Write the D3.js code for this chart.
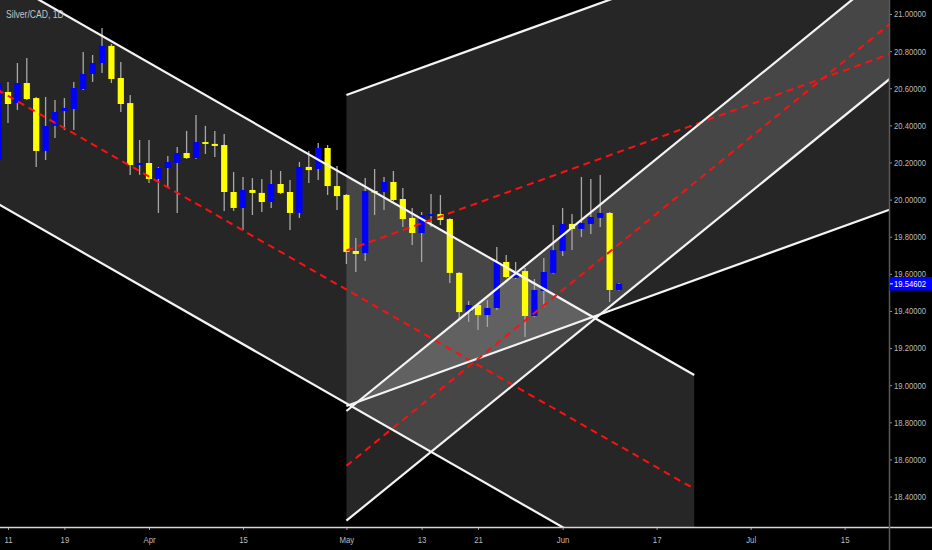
<!DOCTYPE html>
<html>
<head>
<meta charset="utf-8">
<script src="https://cdn.jsdelivr.net/npm/d3@7"></script>
<style>
  html, body { margin: 0; padding: 0; background: #000; }
  svg { display: block; }
  .axis text { font-family: "Liberation Sans", Arial, sans-serif; font-size: 9px; fill: #bcbcbc; }
</style>
</head>
<body>
<div id="chart"></div>
<script>
// Silver/CAD daily candles, first bar 2019-03-08
const candleStart = "2019-03-08";
const open  = [20.213,20.580,20.520,20.628,20.547,20.262,20.397,20.477,20.488,20.596,20.677,20.736,20.828,20.655,20.520,20.186,20.197,20.111,20.170,20.197,20.251,20.224,20.310,20.300,20.294,20.041,19.955,20.052,20.036,19.987,20.084,20.041,19.928,20.176,20.165,20.278,20.073,20.025,19.723,19.712,20.046,20.041,20.095,20.003,19.901,19.820,19.912,19.922,19.895,19.605,19.394,19.432,19.378,19.416,19.664,19.578,19.615,19.373,19.508,19.605,19.723,19.869,19.842,19.869,19.901,19.928,19.513];
const high  = [20.655,20.634,20.736,20.763,20.553,20.553,20.537,20.547,20.634,20.795,20.779,20.925,20.838,20.741,20.564,20.321,20.321,20.176,20.235,20.283,20.370,20.456,20.397,20.370,20.353,20.149,20.122,20.116,20.111,20.159,20.154,20.106,20.203,20.262,20.305,20.294,20.181,20.030,19.793,20.116,20.165,20.122,20.154,20.062,19.955,19.933,20.030,20.025,19.900,19.610,19.454,19.436,19.459,19.745,19.701,19.664,19.631,19.572,19.685,19.863,19.955,19.922,20.122,20.111,20.133,19.933,19.550];
const low   = [20.186,20.413,20.483,20.537,20.176,20.213,20.332,20.375,20.375,20.591,20.634,20.682,20.628,20.472,20.133,20.133,20.089,19.928,20.062,19.928,20.219,20.219,20.246,20.230,19.939,19.939,19.836,19.917,19.933,19.955,20.030,19.836,19.901,20.089,20.106,20.025,19.944,19.653,19.610,19.669,19.917,19.944,19.992,19.852,19.755,19.664,19.852,19.863,19.551,19.351,19.341,19.297,19.314,19.405,19.578,19.572,19.260,19.367,19.421,19.600,19.696,19.728,19.798,19.815,19.852,19.448,19.510];
const close = [20.628,20.515,20.628,20.542,20.262,20.397,20.472,20.494,20.601,20.677,20.736,20.828,20.650,20.515,20.186,20.197,20.111,20.170,20.203,20.251,20.224,20.310,20.300,20.289,20.041,19.955,20.052,20.036,19.987,20.084,20.036,19.928,20.176,20.159,20.278,20.073,20.019,19.718,19.707,20.046,20.041,20.095,19.998,19.895,19.820,19.917,19.922,19.890,19.605,19.394,19.432,19.378,19.416,19.664,19.583,19.615,19.373,19.513,19.610,19.728,19.869,19.842,19.874,19.906,19.928,19.513,19.546];
const lastPrice = 19.54602;

// market closed days (besides weekends)
const holidays = ["2019-04-19"];

// axis ticks
const dateTicks = ["2019-03-11","2019-03-19","2019-04-01","2019-04-15","2019-05-01","2019-05-13","2019-05-21","2019-06-03","2019-06-17","2019-07-01","2019-07-15"];
const priceTicks = [18.4,18.6,18.8,19.0,19.2,19.4,19.6,19.8,20.0,20.2,20.4,20.6,20.8,21.0];

// drawn channels: [date, upper price, lower price] at both ends
const channelA = [["2019-02-25", 21.462, 20.236], ["2019-06-21", 19.055, 17.829]];
const channelB = [["2019-05-01", 20.564, 18.888], ["2019-07-31", 21.754, 20.078]];
const channelC = [["2019-05-01", 18.861, 18.270], ["2019-07-31", 21.538, 20.947]];

const width = 932, height = 550;
const plotW = 889, plotH = 527;
const FONT = "\"Liberation Sans\", Arial, sans-serif";

const fmt = d3.timeFormat("%Y-%m-%d");
const parse = d3.timeParse("%Y-%m-%d");

// trading calendar (weekends and holidays skipped, like the chart does)
const days = d3.timeDays(new Date(2019, 1, 25), new Date(2019, 8, 1))
    .filter(d => d.getDay() % 6 !== 0 && !holidays.includes(fmt(d)));
const dayIndex = new Map(days.map((d, i) => [fmt(d), i]));
const pos = s => dayIndex.get(s);

const x = d3.scaleLinear().domain([9.149, 103.72]).range([0, plotW]);
const y = d3.scaleLinear().domain([18.236, 21.0754]).range([plotH, 0]);

// squeeze text to mimic the narrow chart font
function narrow(sel, k = 0.85) {
    sel.each(function () {
        const w = this.getComputedTextLength();
        d3.select(this)
            .attr("textLength", w * k)
            .attr("lengthAdjust", "spacingAndGlyphs");
    });
}

const svg = d3.select("#chart").append("svg")
    .attr("width", width)
    .attr("height", height);

svg.append("rect").attr("width", width).attr("height", height).attr("fill", "#000");

svg.append("defs").append("clipPath").attr("id", "plot")
    .append("rect").attr("width", plotW).attr("height", plotH);

const plot = svg.append("g").attr("clip-path", "url(#plot)");

// channel fills
const channels = [channelA, channelB, channelC];
channels.forEach(ch => {
    const pts = [
        [x(pos(ch[0][0])), y(ch[0][1])],
        [x(pos(ch[1][0])), y(ch[1][1])],
        [x(pos(ch[1][0])), y(ch[1][2])],
        [x(pos(ch[0][0])), y(ch[0][2])]
    ];
    plot.append("polygon")
        .attr("points", pts.map(p => p.join(",")).join(" "))
        .attr("fill", "rgba(255,255,255,0.15)");
});

// title
svg.append("text")
    .attr("x", 6)
    .attr("y", 18)
    .style("font-family", FONT)
    .style("font-size", "11px")
    .style("fill", "#c4c4c4")
    .text("Silver/CAD, 1D")
    .call(narrow, 0.78);

// candles
const startPos = pos(candleStart);
const bars = close.map((c, i) => ({ p: startPos + i, o: open[i], h: high[i], l: low[i], c: c }));
const bw = 6.2;

plot.selectAll("line.wick")
    .data(bars)
    .enter()
    .append("line")
    .attr("class", "wick")
    .attr("x1", d => x(d.p))
    .attr("x2", d => x(d.p))
    .attr("y1", d => y(d.h))
    .attr("y2", d => y(d.l))
    .attr("stroke", "#a8a8a8")
    .attr("stroke-width", 1.3);

plot.selectAll("rect.body")
    .data(bars)
    .enter()
    .append("rect")
    .attr("class", "body")
    .attr("x", d => x(d.p) - bw / 2)
    .attr("width", bw)
    .attr("y", d => y(Math.max(d.o, d.c)))
    .attr("height", d => Math.max(1.5, Math.abs(y(d.o) - y(d.c))))
    .attr("fill", d => d.c < d.o ? "#ffff00" : "#0000ff");

// channel lines
channels.forEach(ch => {
    const x0 = x(pos(ch[0][0])), x1 = x(pos(ch[1][0]));
    [1, 2].forEach(k => {
        plot.append("line")
            .attr("x1", x0).attr("y1", y(ch[0][k]))
            .attr("x2", x1).attr("y2", y(ch[1][k]))
            .attr("stroke", "#f4f4f4")
            .attr("stroke-width", 2.2);
    });
    plot.append("line")
        .attr("x1", x0).attr("y1", y((ch[0][1] + ch[0][2]) / 2))
        .attr("x2", x1).attr("y2", y((ch[1][1] + ch[1][2]) / 2))
        .attr("stroke", "#ff1010")
        .attr("stroke-width", 2)
        .attr("stroke-dasharray", "7,5");
});

// bottom axis
const monthStart = s => {
    const i = pos(s);
    return i === 0 || days[i - 1].getMonth() !== days[i].getMonth();
};
const xAxis = d3.axisBottom(x)
    .tickValues(dateTicks.map(pos))
    .tickFormat((v, i) => monthStart(dateTicks[i]) ? d3.timeFormat("%b")(parse(dateTicks[i])) : d3.timeFormat("%-d")(parse(dateTicks[i])))
    .tickSize(3)
    .tickPadding(6);

const gx = svg.append("g")
    .attr("class", "axis")
    .attr("transform", `translate(0,${plotH})`)
    .call(xAxis);
gx.select(".domain").remove();
gx.selectAll(".tick line").attr("stroke", "#9a9a9a");
gx.selectAll(".tick text").style("font-size", "9.5px").call(narrow, 0.82);

svg.append("line")
    .attr("x1", 0).attr("x2", width)
    .attr("y1", plotH + 0.5).attr("y2", plotH + 0.5)
    .attr("stroke", "#d6d6d6")
    .attr("stroke-width", 1.5);

// right axis
const yAxis = d3.axisRight(y)
    .tickValues(priceTicks)
    .tickFormat(d3.format(".5f"))
    .tickSize(3)
    .tickPadding(2);

const gy = svg.append("g")
    .attr("class", "axis")
    .attr("transform", `translate(${plotW},0)`)
    .call(yAxis);
gy.select(".domain").remove();
gy.selectAll(".tick line").attr("stroke", "#9a9a9a");
gy.selectAll(".tick text").call(narrow);

svg.append("line")
    .attr("x1", plotW + 0.5).attr("x2", plotW + 0.5)
    .attr("y1", 0).attr("y2", height)
    .attr("stroke", "#5a5a5a")
    .attr("stroke-width", 1.5);

// last price marker
const lp = svg.append("g").attr("transform", `translate(${plotW},${y(lastPrice)})`);
lp.append("rect")
    .attr("x", 0.5)
    .attr("y", -6.7)
    .attr("width", width - plotW)
    .attr("height", 13.4)
    .attr("fill", "#0000ff");
lp.append("line")
    .attr("x1", 1).attr("x2", 4)
    .attr("stroke", "#fff");
lp.append("text")
    .attr("x", 5)
    .attr("dy", "0.32em")
    .style("font-family", FONT)
    .style("font-size", "9px")
    .style("fill", "#fff")
    .text(d3.format(".5f")(lastPrice))
    .call(narrow);
</script>
</body>
</html>
